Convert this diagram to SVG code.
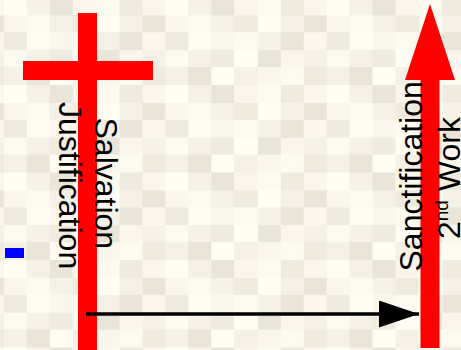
<svg xmlns="http://www.w3.org/2000/svg" width="461" height="350" viewBox="0 0 461 350">
  <defs>
    <pattern id="tex" patternUnits="userSpaceOnUse" x="4" y="-2.5" width="161.35" height="87.5">
      <g shape-rendering="crispEdges">
        <rect x="0" y="0" width="23.05" height="17.5" fill="#fffdf3"/><rect x="23.05" y="0" width="23.05" height="17.5" fill="#f5f1e6"/><rect x="46.1" y="0" width="23.05" height="17.5" fill="#e9e5d9"/><rect x="69.15" y="0" width="23.05" height="17.5" fill="#faf6ec"/><rect x="92.2" y="0" width="23.05" height="17.5" fill="#fcf9ef"/><rect x="115.25" y="0" width="23.05" height="17.5" fill="#efebdf"/><rect x="138.3" y="0" width="23.05" height="17.5" fill="#faf6ec"/>
        <rect x="0" y="17.5" width="23.05" height="17.5" fill="#faf6ec"/><rect x="23.05" y="17.5" width="23.05" height="17.5" fill="#fcf9ef"/><rect x="46.1" y="17.5" width="23.05" height="17.5" fill="#f5f1e6"/><rect x="69.15" y="17.5" width="23.05" height="17.5" fill="#efebdf"/><rect x="92.2" y="17.5" width="23.05" height="17.5" fill="#fffdf3"/><rect x="115.25" y="17.5" width="23.05" height="17.5" fill="#f5f1e6"/><rect x="138.3" y="17.5" width="23.05" height="17.5" fill="#e9e5d9"/>
        <rect x="0" y="35" width="23.05" height="17.5" fill="#efebdf"/><rect x="23.05" y="35" width="23.05" height="17.5" fill="#fffdf3"/><rect x="46.1" y="35" width="23.05" height="17.5" fill="#faf6ec"/><rect x="69.15" y="35" width="23.05" height="17.5" fill="#fcf9ef"/><rect x="92.2" y="35" width="23.05" height="17.5" fill="#f5f1e6"/><rect x="115.25" y="35" width="23.05" height="17.5" fill="#e9e5d9"/><rect x="138.3" y="35" width="23.05" height="17.5" fill="#faf6ec"/>
        <rect x="0" y="52.5" width="23.05" height="17.5" fill="#fcf9ef"/><rect x="23.05" y="52.5" width="23.05" height="17.5" fill="#f5f1e6"/><rect x="46.1" y="52.5" width="23.05" height="17.5" fill="#efebdf"/><rect x="69.15" y="52.5" width="23.05" height="17.5" fill="#fffdf3"/><rect x="92.2" y="52.5" width="23.05" height="17.5" fill="#e9e5d9"/><rect x="115.25" y="52.5" width="23.05" height="17.5" fill="#faf6ec"/><rect x="138.3" y="52.5" width="23.05" height="17.5" fill="#f5f1e6"/>
        <rect x="0" y="70" width="23.05" height="17.5" fill="#f5f1e6"/><rect x="23.05" y="70" width="23.05" height="17.5" fill="#e9e5d9"/><rect x="46.1" y="70" width="23.05" height="17.5" fill="#fffdf3"/><rect x="69.15" y="70" width="23.05" height="17.5" fill="#f5f1e6"/><rect x="92.2" y="70" width="23.05" height="17.5" fill="#faf6ec"/><rect x="115.25" y="70" width="23.05" height="17.5" fill="#fcf9ef"/><rect x="138.3" y="70" width="23.05" height="17.5" fill="#efebdf"/>
      </g>
    </pattern>
    <marker id="arrowBlack" markerUnits="userSpaceOnUse" markerWidth="41" markerHeight="28" refX="40" refY="13.5" orient="auto">
      <path d="M0,0 L40,13.5 L0,27 Z" fill="#000"/>
    </marker>
  </defs>
  <style>
    .red { fill: #ff0000; }
    .lbl { font-family: "Liberation Sans", Arial, sans-serif; font-size: 32px; fill: #000; }
  </style>
  <rect width="461" height="350" fill="url(#tex)"/>

  <rect id="marker-blue" x="5" y="248" width="19" height="10" fill="#0000ff"/>

  <g id="node-cross">
    <rect class="red" x="78" y="13" width="19" height="337"/>
    <rect class="red" x="23" y="61" width="130" height="19"/>
    <text class="lbl" transform="translate(95,117.5) rotate(90)">Salvation</text>
    <text class="lbl" transform="translate(58.5,102) rotate(90)">Justification</text>
  </g>

  <g id="node-sanctification">
    <rect class="red" x="420.5" y="79" width="19" height="269"/>
    <polygon class="red" points="430,4 455,80 405,80"/>
    <text class="lbl" transform="translate(421.5,271.5) rotate(-90)">Sanctification</text>
    <text class="lbl" transform="translate(460,239) rotate(-90)">2<tspan font-size="19" dy="-12">nd</tspan><tspan dy="12"> Work</tspan></text>
  </g>

  <g id="connectors">
    <line x1="86" y1="314" x2="419" y2="314" stroke="#000" stroke-width="3.3" marker-end="url(#arrowBlack)"/>
  </g>
</svg>
